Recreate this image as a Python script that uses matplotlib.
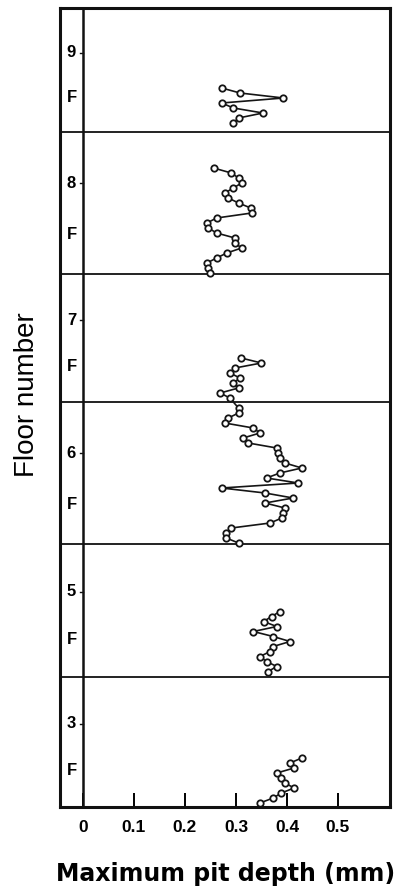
import matplotlib.pyplot as plt

narrow = ['Liberation Sans', 'DejaVu Sans']

floors = ['9', '8', '7', '6', '5', '3']
# floor boundaries down the building section, in sample slots from the top
bounds = [0, 24.8, 53.2, 78.8, 107.2, 133.8, 159.8]

# maximum pit depth (mm), listed from the top of each floor downwards
depth_9f = [0.272, 0.308, 0.393, 0.272, 0.295, 0.353, 0.305, 0.295]
depth_8f = [0.256, 0.291, 0.305, 0.311, 0.295, 0.278, 0.285, 0.305, 0.329, 0.331, 0.262,
            0.243, 0.246, 0.262, 0.298, 0.298, 0.311, 0.282, 0.262, 0.243, 0.246, 0.249]
depth_7f = [0.310, 0.350, 0.298, 0.288, 0.308, 0.295, 0.305, 0.269, 0.288]
depth_6f = [0.305, 0.305, 0.285, 0.278, 0.334, 0.347, 0.314, 0.324, 0.380, 0.383, 0.386, 0.396,
            0.429, 0.386, 0.360, 0.422, 0.272, 0.357, 0.412, 0.357, 0.396, 0.393, 0.390, 0.367,
            0.291, 0.281, 0.281, 0.305]
depth_5f = [0.386, 0.370, 0.354, 0.380, 0.334, 0.373, 0.406, 0.373, 0.367, 0.347, 0.360, 0.380, 0.363]
depth_3f = [0.429, 0.406, 0.414, 0.380, 0.389, 0.396, 0.414, 0.389, 0.373, 0.347]

# first sample slot of each series
start_9f = 16
start_8f = 32
start_7f = 70
start_6f = 80
start_5f = 120.7
start_3f = 150

xticks = [0, 0.1, 0.2, 0.3, 0.4, 0.5]
xticklabels = ['0', '0.1', '0.2', '0.3', '0.4', '0.5']


def slots(start, values):
    return [start + i for i in range(len(values))]


fig = plt.figure(figsize=(4, 8.88), dpi=100)
ax = fig.add_axes([60 / 400, 1 - 807 / 888, 330 / 400, 799 / 888])

style = dict(color='#151515', lw=1.2, marker='o', markersize=4.6,
             markerfacecolor='white', markeredgecolor='#151515', markeredgewidth=1.3)

ax.plot(depth_9f, slots(start_9f, depth_9f), **style)
ax.plot(depth_8f, slots(start_8f, depth_8f), **style)
# 7F and 6F were measured as one continuous run
ax.plot(depth_7f + depth_6f, slots(start_7f, depth_7f) + slots(start_6f, depth_6f), **style)
ax.plot(depth_5f, slots(start_5f, depth_5f), **style)
ax.plot(depth_3f, slots(start_3f, depth_3f), **style)

# floor dividers and the label column
for b in bounds[1:-1]:
    ax.axhline(b, color='#222222', lw=1.4, zorder=1)
ax.axvline(0, color='#111111', lw=1.8)

for i, name in enumerate(floors):
    top, bot = bounds[i], bounds[i + 1]
    h = bot - top
    ax.text(-0.0225, top + 0.36 * h, name, ha='center', va='center',
            fontsize=12, fontweight='bold', family=narrow)
    ax.text(-0.0225, top + 0.72 * h, 'F', ha='center', va='center',
            fontsize=12, fontweight='bold', family=narrow)
    ax.plot([-0.006, 0], [top + 0.36 * h] * 2, color='#111111', lw=1.0)

ax.set_xlim(-0.045, 0.602)
ax.set_ylim(bounds[-1], bounds[0])
ax.set_yticks([])
ax.set_xticks(xticks)
ax.set_xticklabels(xticklabels, fontweight='bold', family=narrow)
ax.tick_params(axis='x', direction='in', length=10, width=1.4, labelsize=12.5, pad=9)

for s in ax.spines.values():
    s.set_linewidth(2.2)
    s.set_color('#111111')

fig.text(27 / 400, 1 - 395 / 888, 'Floor number', rotation=90, ha='center', va='center',
         fontsize=20, family=narrow)
fig.text(226 / 400, 1 - 874 / 888, 'Maximum pit depth (mm)', ha='center', va='center',
         fontsize=17, fontweight='bold')

fig.savefig('out.png', dpi=100, facecolor='white')
